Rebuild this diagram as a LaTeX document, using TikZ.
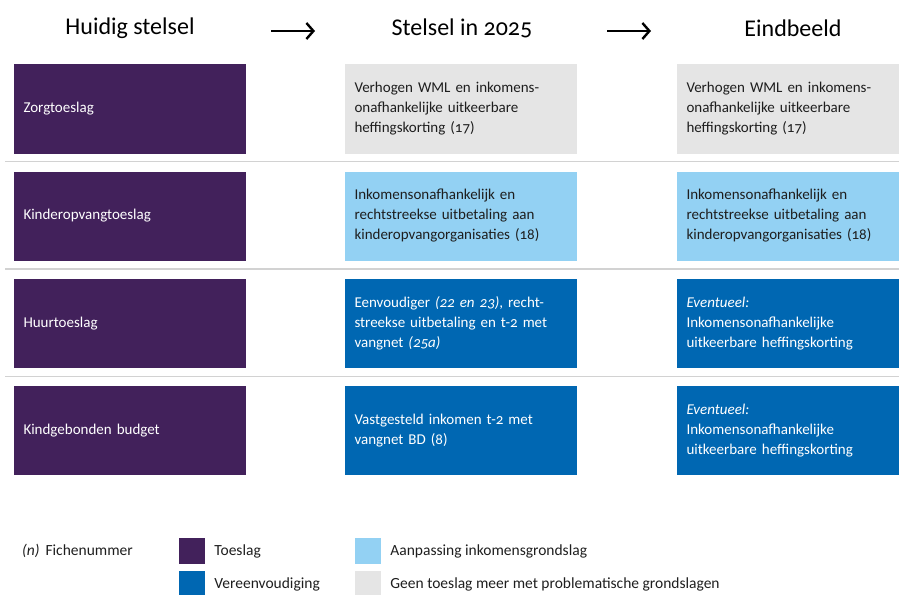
\documentclass[tikz,border=0pt]{standalone}
\usepackage{fontspec}
\setmainfont{Carlito}[Numbers=OldStyle]
\usepackage{xcolor}
\usetikzlibrary{arrows.meta,positioning}

\definecolor{toeslagpurple}{HTML}{42215B}
\definecolor{vereenvblue}{HTML}{0067B2}
\definecolor{aanpasblue}{HTML}{93D1F3}
\definecolor{geengrey}{HTML}{E5E5E5}
\definecolor{linegrey}{HTML}{D2D2D2}
\definecolor{textdark}{HTML}{1E1E1E}

\begin{document}
\begin{tikzpicture}[
  x=1pt, y=-1pt,
  every node/.style={font=\fontsize{15}{20}\selectfont, text=textdark},
  box/.style={rectangle, minimum width=232pt, minimum height=89pt,
    text width=213pt, inner xsep=9.5pt, inner ysep=0pt, align=left},
  endbox/.style={box, minimum width=222pt, text width=203pt},
  toeslag/.style={fill=toeslagpurple, text=white},
  vereenv/.style={fill=vereenvblue, text=white},
  aanpas/.style={fill=aanpasblue},
  geen/.style={fill=geengrey},
  header/.style={font=\fontsize{24}{28}\selectfont, text=black},
  sepline/.style={draw=linegrey, line width=1.6pt},
  flow/.style={line width=2.6pt, -{Straight Barb[length=7pt,width=16pt,line width=2.4pt]}},
  legsq/.style={rectangle, minimum size=26pt, inner sep=0pt},
  legtext/.style={font=\fontsize{15.5}{18}\selectfont, right=9pt of #1, inner sep=0pt}
]
\useasboundingbox (0,0) rectangle (899,594);

\node[header] (huidig) at (130,28) {Huidig stelsel};
\node[header] (stelsel) at (462,28) {Stelsel in 2025};
\node[header] (eind) at (793,28) {Eindbeeld};
\coordinate (arr1s) at (271,31);
\coordinate (arr1e) at (315,31);
\coordinate (arr2s) at (607,31);
\coordinate (arr2e) at (651,31);
\draw[flow] (arr1s) -- (arr1e);
\draw[flow] (arr2s) -- (arr2e);

\draw[sepline] (5,161.5) -- (899,161.5);
\draw[sepline] (5,269) -- (899,269);
\draw[sepline] (5,376.5) -- (899,376.5);

\node[box,toeslag] (zorg) at (130,109) {Zorgtoeslag};
\node[box,toeslag] (kinderopv) at (130,216) {Kinderopvangtoeslag};
\node[box,toeslag] (huur) at (130,323.5) {Huurtoeslag};
\node[box,toeslag] (kgb) at (130,430.5) {Kindgebonden budget};

\node[box,geen] (zorg25) at (461,109)
  {Verhogen WML en inkomens-\\onafhankelijke uitkeerbare\\heffingskorting (17)};
\node[box,aanpas] (kinderopv25) at (461,216)
  {Inkomensonafhankelijk en\\rechtstreekse uitbetaling aan\\kinderopvangorganisaties (18)};
\node[box,vereenv] (huur25) at (461,323.5)
  {Eenvoudiger \textit{(22 en 23)}, recht-\\streekse uitbetaling en t-2 met\\vangnet \textit{(25a)}};
\node[box,vereenv] (kgb25) at (461,430.5)
  {Vastgesteld inkomen t-2 met\\vangnet BD (8)};

\node[endbox,geen] (zorgeind) at (788,109)
  {Verhogen WML en inkomens-\\onafhankelijke uitkeerbare\\heffingskorting (17)};
\node[endbox,aanpas] (kinderopveind) at (788,216)
  {Inkomensonafhankelijk en\\rechtstreekse uitbetaling aan\\kinderopvangorganisaties (18)};
\node[endbox,vereenv] (huureind) at (788,323.5)
  {\textit{Eventueel:}\\Inkomensonafhankelijke\\uitkeerbare heffingskorting};
\node[endbox,vereenv] (kgbeind) at (788,430.5)
  {\textit{Eventueel:}\\Inkomensonafhankelijke\\uitkeerbare heffingskorting};

\node[anchor=west, inner sep=0pt, font=\fontsize{15.5}{18}\selectfont] (fiche) at (22,551)
  {\textit{(n)}\hspace{6pt}Fichenummer};
\node[legsq,toeslag] (sqtoeslag) at (192,551) {};
\node[legtext=sqtoeslag] (lbtoeslag) {Toeslag};
\node[legsq,vereenv] (sqvereenv) at (192,584) {};
\node[legtext=sqvereenv] (lbvereenv) {Vereenvoudiging};
\node[legsq,aanpas] (sqaanpas) at (368,551) {};
\node[legtext=sqaanpas] (lbaanpas) {Aanpassing inkomensgrondslag};
\node[legsq,geen] (sqgeen) at (368,584) {};
\node[legtext=sqgeen] (lbgeen) {Geen toeslag meer met problematische grondslagen};
\end{tikzpicture}
\end{document}
